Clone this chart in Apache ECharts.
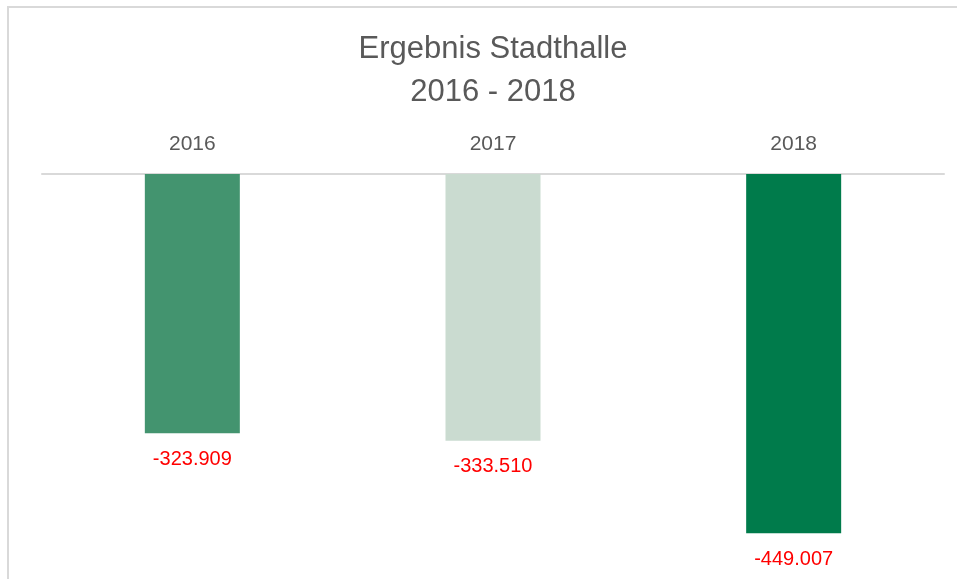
<!DOCTYPE html>
<html style="height: 100%">
<head>
<meta charset="utf-8">
<script src="https://cdn.jsdelivr.net/npm/echarts@6/dist/echarts.min.js"></script>
</head>
<body style="height: 100%; margin: 0; background: #fff">
<div id="container" style="width: 957px; height: 579px"></div>
<script type="text/javascript">
// data
var years = ['2016', '2017', '2018'];
var results = [-323909, -333510, -449007];
var barColors = ['#43946f', '#cadbd0', '#007b4b'];

var dom = document.getElementById('container');
var myChart = echarts.init(dom);

// 1234567 -> 1.234.567
function fmtDE(v) {
    var s = Math.abs(v).toString().replace(/\B(?=(\d{3})+(?!\d))/g, '.');
    return (v < 0 ? '-' : '') + s;
}

var barData = [];
for (var i = 0; i < results.length; i++) {
    barData.push({ value: results[i], itemStyle: { color: barColors[i] } });
}

var option = {
    backgroundColor: '#fff',
    animation: false,
    title: {
        text: 'Ergebnis Stadthalle\n2016 - 2018',
        left: 488,
        top: 23,
        textAlign: 'center',
        textStyle: {
            fontFamily: 'Liberation Sans, Arial, sans-serif',
            fontSize: 31,
            fontWeight: 'normal',
            color: '#595959',
            lineHeight: 43
        }
    },
    graphic: [{
        type: 'rect',
        shape: { x: 8, y: 7, width: 1200, height: 1000 },
        style: { fill: 'none', stroke: '#d9d9d9', lineWidth: 2 },
        silent: true
    }],
    grid: { left: 42, right: 13, top: 174, bottom: 5 },
    xAxis: {
        type: 'category',
        position: 'top',
        data: years,
        axisLine: { lineStyle: { color: '#d9d9d9', width: 2 } },
        axisTick: { show: false },
        axisLabel: {
            margin: 19,
            fontFamily: 'Liberation Sans, Arial, sans-serif',
            fontSize: 21,
            color: '#595959'
        }
    },
    yAxis: {
        type: 'value',
        min: -500000,
        max: 0,
        show: false,
        splitLine: { show: false }
    },
    series: [{
        type: 'bar',
        barWidth: 95,
        data: barData,
        label: {
            show: true,
            position: 'bottom',
            distance: 16,
            color: '#ff0000',
            fontFamily: 'Liberation Sans, Arial, sans-serif',
            fontSize: 20,
            formatter: function (p) { return fmtDE(p.value); }
        }
    }]
};

myChart.setOption(option, true);
</script>
</body>
</html>
